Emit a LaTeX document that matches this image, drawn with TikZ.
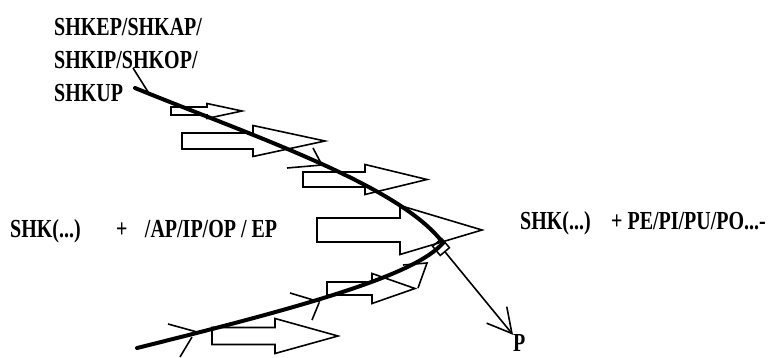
\documentclass[tikz,border=0pt]{standalone}
\usepackage{fontspec}
\setmainfont{Liberation Serif}
\usepackage{graphicx}
\usetikzlibrary{positioning,arrows.meta}
\newcommand{\tall}[1]{\scalebox{1}[1.3]{#1}}
% left x, head base x, tip x, centre y, half shaft, half head
\newcommand{\blockarrow}[6]{%
  \draw[block] (#1,#4-#5) -- (#2,#4-#5) -- (#2,#4-#6) -- (#3,#4)
    -- (#2,#4+#6) -- (#2,#4+#5) -- (#1,#4+#5) -- cycle;}

\begin{document}
\begin{tikzpicture}[
  x=1pt, y=-1pt,
  txt/.style={font=\bfseries\fontsize{20}{33}\selectfont, inner sep=0pt, anchor=base west},
  block/.style={draw, line width=1.6pt, fill=white, line join=miter},
  track/.style={line width=4pt, line cap=round},
  barb/.style={line width=1.6pt},
  knotbox/.style={draw, line width=1.5pt, rotate=40, minimum size=12pt, inner sep=0pt},
  parrow/.style={line width=1.6pt, -{Straight Barb[length=24pt,width=26pt,line width=1.6pt]}}
]
  \useasboundingbox (0,0) rectangle (772,358);

  \node[txt] (shkep) at (54,36)  {\tall{SHKEP/SHKAP/}};
  \node[txt] (shkip) at (54,69)  {\tall{SHKIP/SHKOP/}};
  \node[txt] (shkup) at (54,102) {\tall{SHKUP}};

  \node[txt] (shkl) at (10,238) {\tall{SHK(...)}};
  \node[txt, base right=35pt of shkl]  (plusl) {\tall{+}};
  \node[txt, base right=17pt of plusl] (vow)   {\tall{/AP/IP/OP / EP}};

  \node[txt] (shkr) at (520,230) {\tall{SHK(...)}};
  \node[txt, base right=20pt of shkr] (suff) {\tall{+ PE/PI/PU/PO...-}};

  \node[txt] (p) at (513,352) {\tall{P}};

  % block arrows
  \blockarrow{171}{207}{242}{111}{4}{7.5}
  \blockarrow{182}{253}{325}{141}{8}{15.5}
  \blockarrow{303}{365}{427}{179.5}{7.5}{15}
  \blockarrow{317}{400}{482}{230}{12}{24.5}
  \blockarrow{327}{372}{415}{288.5}{6.5}{15}
  \blockarrow{212}{275}{338}{336}{8.5}{17.5}

  \draw[track] (135,88) .. controls (250,135) and (400,185) .. (443,243)
    .. controls (415,275) and (310,305) .. (137,348);

  % marks on the curve
  \draw[barb] (133,68) -- (150,95);
  \draw[barb] (287,168) -- (322,165) -- (313,148);
  \draw[barb] (168,324) -- (197,332);
  \draw[barb] (180,357) -- (192,337);
  \draw[barb] (290,293) -- (320,302);
  \draw[barb] (312,320) -- (319,303);
  \draw[barb] (403,265) -- (427,263) -- (418,288);

  \node[knotbox] (knot) at (441,247) {};
  \draw[parrow] (knot) -- (p.north west);
\end{tikzpicture}
\end{document}
